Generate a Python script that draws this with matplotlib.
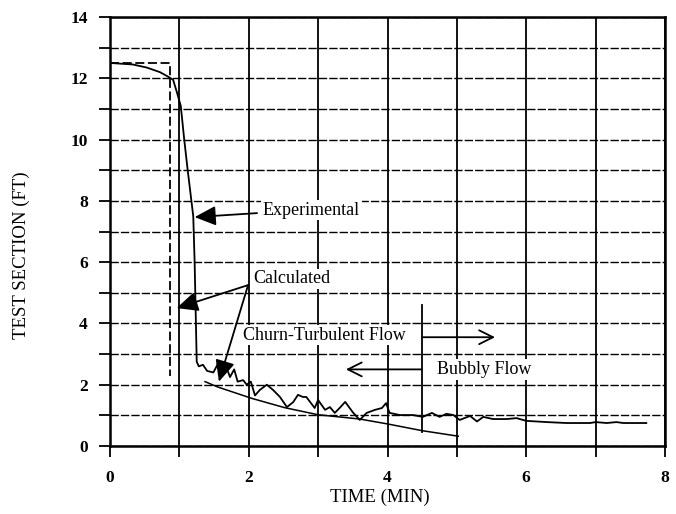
import matplotlib
matplotlib.use("Agg")
import matplotlib.pyplot as plt
from matplotlib.ticker import FixedLocator, FuncFormatter
from matplotlib.patches import FancyArrowPatch

# Measured water level in the test section
exp_time = [0, 0.33, 0.53, 0.72, 0.84, 0.91, 0.97, 1.02, 1.07, 1.12, 1.2, 1.22,
            1.25, 1.28, 1.34, 1.4, 1.49, 1.56, 1.61, 1.68, 1.73, 1.79, 1.84, 1.92,
            1.97, 2.03, 2.09, 2.16, 2.26, 2.35, 2.45, 2.55, 2.64, 2.71, 2.78, 2.83,
            2.95, 3.0, 3.1, 3.17, 3.24, 3.31, 3.39, 3.5, 3.6, 3.7, 3.82, 3.92, 3.98,
            4.03, 4.18, 4.37, 4.51, 4.64, 4.75, 4.85, 4.95, 5.04, 5.19, 5.29, 5.38,
            5.52, 5.72, 5.86, 6.0, 6.3, 6.58, 6.77, 6.92, 7.0, 7.16, 7.3, 7.4, 7.73]
exp_level = [12.5, 12.45, 12.35, 12.2, 12.05, 11.95, 11.5, 11.1, 10.0, 9.0, 7.5, 6.0,
             2.75, 2.6, 2.65, 2.45, 2.4, 2.7, 2.45, 2.55, 2.25, 2.5, 2.1, 2.15,
             2.0, 2.1, 1.65, 1.83, 2.0, 1.83, 1.6, 1.27, 1.43, 1.67, 1.6, 1.6,
             1.24, 1.5, 1.18, 1.27, 1.08, 1.24, 1.44, 1.1, 0.85, 1.08, 1.18, 1.24, 1.4,
             1.08, 1.01, 1.01, 0.95, 1.08, 0.95, 1.05, 1.01, 0.85, 0.98, 0.8, 0.95,
             0.88, 0.88, 0.91, 0.82, 0.78, 0.75, 0.75, 0.75, 0.78, 0.75, 0.78, 0.75, 0.75]

# Calculated level: early draining (dashed) and later churn/bubbly regime (solid)
calc_drain_time = [0, 0.87, 0.87]
calc_drain_level = [12.5, 12.5, 2.3]
calc_time = [1.37, 1.56, 2.05, 2.52, 3.0, 3.6, 4.0, 4.5, 5.02]
calc_level = [2.1, 1.92, 1.55, 1.25, 1.02, 0.88, 0.72, 0.5, 0.32]

# Flow regime transition
transition_time = 4.5
transition_span = [0.45, 4.6]

x_ticks = [0, 1, 2, 3, 4, 5, 6, 7, 8]
y_ticks = [0, 1, 2, 3, 4, 5, 6, 7, 8, 9, 10, 11, 12, 13, 14]

serif = ["Liberation Serif", "DejaVu Serif"]

fig = plt.figure(figsize=(6.76, 5.14), dpi=100)
ax = fig.add_axes([110 / 676, 1 - 446 / 514, 555 / 676, 429 / 514])

ax.set_xlim(0, 8)
ax.set_ylim(0, 14)

ax.xaxis.set_major_locator(FixedLocator(x_ticks))
ax.yaxis.set_major_locator(FixedLocator(y_ticks))
even = FuncFormatter(lambda v, p: f"{int(round(v))}" if int(round(v)) % 2 == 0 else "")
ax.xaxis.set_major_formatter(even)
ax.yaxis.set_major_formatter(even)
ax.tick_params(direction="out", length=8, width=1.3, color="k")
ax.tick_params(axis="x", pad=9)
ax.tick_params(axis="y", pad=8)
for lbl in ax.get_xticklabels() + ax.get_yticklabels():
    lbl.set_fontfamily(serif)
    lbl.set_fontsize(12.5)
    lbl.set_fontweight("bold")

for s in ax.spines.values():
    s.set_linewidth(1.8)

ax.xaxis.grid(True, color="k", lw=1.3, ls="-", zorder=1)
ax.yaxis.grid(True, color="k", lw=1.0, ls=(0, (6, 1.5)), zorder=1)
ax.set_axisbelow(True)

ax.plot(exp_time, exp_level, color="k", lw=1.3, zorder=3)
ax.plot(calc_drain_time, calc_drain_level, color="k", lw=1.3, ls=(0, (5, 2)), zorder=3)
ax.plot(calc_time, calc_level, color="k", lw=1.1, zorder=3)
ax.plot([transition_time, transition_time], transition_span, color="k", lw=1.3, zorder=3)

box = dict(boxstyle="square,pad=0.1", fc="white", ec="none")
tkw = dict(fontfamily=serif, fontsize=13, ha="left", va="center", bbox=box, zorder=4)
ax.text(2.2, 7.7, "Experimental", fontstretch="expanded", **tkw)
ax.text(2.07, 5.45, "Calculated", **tkw)
ax.text(1.92, 3.62, "Churn-Turbulent Flow", **tkw)
ax.text(4.71, 2.5, "Bubbly Flow", **tkw)


def arrow(start, end, style):
    ax.add_patch(FancyArrowPatch(start, end, arrowstyle=style, mutation_scale=10,
                                 color="k", lw=1.3, shrinkA=0, shrinkB=0, zorder=5))


filled = "-|>,head_length=1.3,head_width=0.6"
arrow((2.12, 7.6), (1.22, 7.47), filled)
arrow((1.99, 5.25), (0.96, 4.5), filled)
arrow((1.99, 5.25), (1.57, 2.1), filled)
open_head = "->,head_length=1.0,head_width=0.5"
arrow((transition_time, 3.55), (5.55, 3.55), open_head)
arrow((transition_time, 2.5), (3.4, 2.5), open_head)

fig.text(380 / 676, 1 - 497 / 514, "TIME (MIN)", fontfamily=serif, fontsize=13.5,
         ha="center", va="center")
fig.text(21 / 676, 1 - 255 / 514, "TEST SECTION (FT)", fontfamily=serif, fontsize=13.5,
         ha="center", va="center", rotation=90)

fig.savefig("out.png", dpi=100)
